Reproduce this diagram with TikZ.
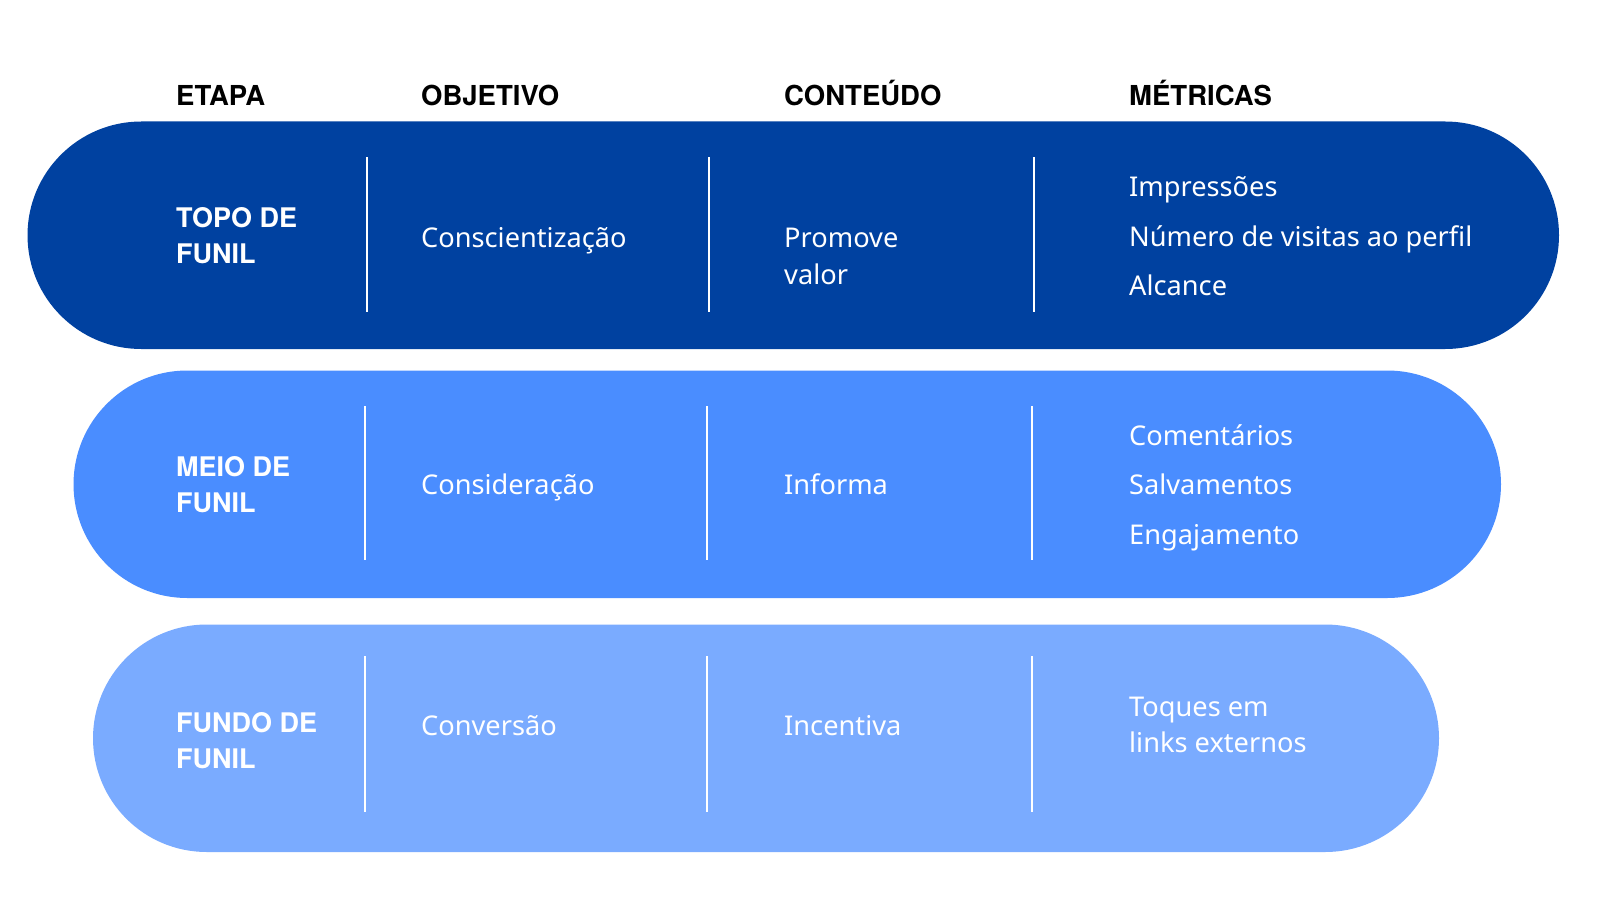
\documentclass[tikz,border=0pt]{standalone}
\usepackage{fontspec}
\setmainfont{Noto Sans}
\newfontfamily\headfont{TeX Gyre Heros}
\usetikzlibrary{positioning}
\definecolor{funiltopo}{HTML}{0041A0}
\definecolor{funilmeio}{HTML}{4A8DFF}
\definecolor{funilfundo}{HTML}{7AABFF}

\tikzset{
    pill/.style={rounded corners=113.75pt, minimum height=227.5pt, inner sep=0pt},
    header/.style={font=\headfont\bfseries\fontsize{27.5}{32}\selectfont, text=black, anchor=base west, inner sep=0pt},
    stage/.style={font=\headfont\bfseries\fontsize{27}{32}\selectfont, text=white, anchor=base west, inner sep=0pt},
    cell/.style={font=\fontsize{27.2}{34}\selectfont, text=white, anchor=base west, inner sep=0pt},
    divider/.style={white, line width=2pt}
}

\begin{document}
\begin{tikzpicture}[x=1pt, y=-1pt]
    \useasboundingbox[fill=white] (0,0) rectangle (1600,923);

    % Column headers
    \node[header] (hetapa) at (176,105.5) {ETAPA};
    \node[header] (hobjetivo) at (421,105.5) {OBJETIVO};
    \node[header] (hconteudo) at (784,105.5) {CONTEÚDO};
    \node[header] (hmetricas) at (1129,105.5) {MÉTRICAS};

    % Pills (one per funnel stage)
    \node[pill, fill=funiltopo, minimum width=1531.5pt] (topo) at (793.25,235.25) {};
    \node[pill, fill=funilmeio, minimum width=1427.5pt] (meio) at (787.25,484.25) {};
    \node[pill, fill=funilfundo, minimum width=1346pt] (fundo) at (766,738.25) {};

    % Column dividers
    \foreach \x/\ya/\yb in {367/157/312, 709/157/312, 1034/157/312,
                            365/406/560, 707/406/560, 1032/406/560,
                            365/656/812, 707/656/812, 1032/656/812} {
        \draw[divider] (\x,\ya) -- (\x,\yb);
    }

    % Topo de funil
    \node[stage] (topo1) at (176,227) {TOPO DE};
    \node[stage] (topo2) at ([yshift=-36.7pt]topo1.base west) {FUNIL};
    \node[cell] (topoobj) at (421,247.5) {Conscientização};
    \node[cell] (topocont1) at (784,247.5) {Promove};
    \node[cell] (topocont2) at ([yshift=-36.7pt]topocont1.base west) {valor};
    \node[cell] (topomet1) at (1129,196.7) {Impressões};
    \node[cell] (topomet2) at ([yshift=-49.5pt]topomet1.base west) {Número de visitas ao perfil};
    \node[cell] (topomet3) at ([yshift=-49.5pt]topomet2.base west) {Alcance};

    % Meio de funil
    \node[stage] (meio1) at (176,476) {MEIO DE};
    \node[stage] (meio2) at ([yshift=-36.7pt]meio1.base west) {FUNIL};
    \node[cell] (meioobj) at (421,494.7) {Consideração};
    \node[cell] (meiocont) at (784,494.7) {Informa};
    \node[cell] (meiomet1) at (1129,445.2) {Comentários};
    \node[cell] (meiomet2) at ([yshift=-49.5pt]meiomet1.base west) {Salvamentos};
    \node[cell] (meiomet3) at ([yshift=-49.5pt]meiomet2.base west) {Engajamento};

    % Fundo de funil
    \node[stage] (fundo1) at (176,732) {FUNDO DE};
    \node[stage] (fundo2) at ([yshift=-36.7pt]fundo1.base west) {FUNIL};
    \node[cell] (fundoobj) at (421,735.5) {Conversão};
    \node[cell] (fundocont) at (784,735.5) {Incentiva};
    \node[cell] (fundomet1) at (1129,716) {Toques em};
    \node[cell] (fundomet2) at ([yshift=-36.7pt]fundomet1.base west) {links externos};
\end{tikzpicture}
\end{document}
